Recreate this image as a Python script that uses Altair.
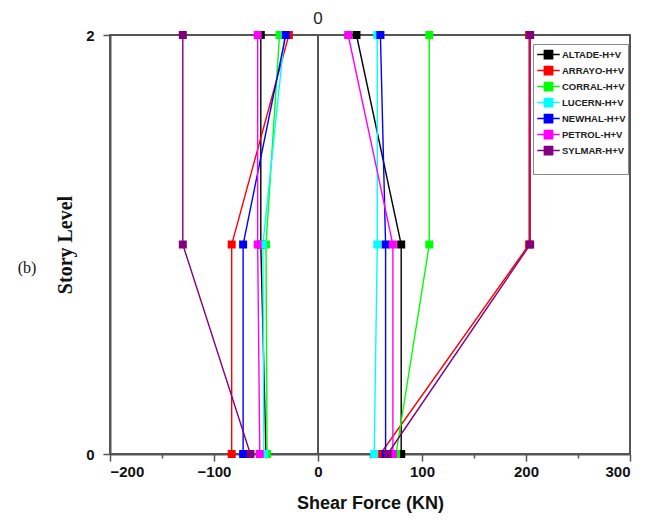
import altair as alt
import pandas as pd

series = ["ALTADE-H+V", "ARRAYO-H+V", "CORRAL-H+V", "LUCERN-H+V",
          "NEWHAL-H+V", "PETROL-H+V", "SYLMAR-H+V"]
colors = ["#000000", "#FF0000", "#00FF00", "#00FFFF", "#0000FF", "#FF00FF", "#800080"]
levels = [0, 1, 2]

# shear force at story levels 0, 1, 2 (negative and positive envelopes)
altade_neg = [-50, -55, -55]
altade_pos = [80, 80, 37]
arrayo_neg = [-83, -83, -28]
arrayo_pos = [60, 203, 203]
corral_neg = [-49, -50, -37]
corral_pos = [75, 107, 107]
lucern_neg = [-52, -53, -32]
lucern_pos = [54, 57, 57]
newhal_neg = [-72, -72, -31]
newhal_pos = [65, 65, 60]
petrol_neg = [-56, -58, -58]
petrol_pos = [72, 72, 29]
sylmar_neg = [-65, -130, -130]
sylmar_pos = [67, 204, 204]

neg = [altade_neg, arrayo_neg, corral_neg, lucern_neg, newhal_neg, petrol_neg, sylmar_neg]
pos = [altade_pos, arrayo_pos, corral_pos, lucern_pos, newhal_pos, petrol_pos, sylmar_pos]

rows = []
for i, s in enumerate(series):
    for side, vals in (("neg", neg[i]), ("pos", pos[i])):
        for lv, v in zip(levels, vals):
            rows.append({"series": s, "side": side, "level": lv, "shear": v, "ord": i})
df = pd.DataFrame(rows)

AX = "#555555"
FONT = "Liberation Sans"
SERIF = "Liberation Serif"
SYM = "M-1.5,0H1.5M-0.55,-0.55H0.55V0.55H-0.55Z"


def make_legend():
    return alt.Legend(
        title=" ", titleOrient="bottom", titleFontSize=14, titlePadding=0,
        orient="none", legendX=423, legendY=9,
        symbolType=SYM, symbolSize=225, symbolStrokeWidth=1.5, symbolOffset=5,
        labelFont=FONT, labelFontSize=9.5, labelFontWeight="bold", labelColor="#222",
        labelOffset=5, rowPadding=0,
        strokeColor="#888888", fillColor="white", padding=2,
    )


cscale = alt.Scale(domain=series, range=colors)

xscale = alt.Scale(domain=[-200, 300], nice=False)
yscale = alt.Scale(domain=[0, 2], nice=False)

xaxis = alt.Axis(
    title="Shear Force (KN)", values=list(range(-200, 301, 50)),
    labelExpr="datum.value % 100 == 0 ? datum.label : ''", labelOverlap=False,
    grid=False, domainColor=AX, domainWidth=2, tickColor=AX, tickWidth=1.5,
    tickSize={"condition": {"test": "datum.value % 100 == 0", "value": 7}, "value": 4},
    labelFont=FONT, labelFontSize=15, labelFontWeight="bold", labelColor="#111", labelPadding=3,
    titleFont=FONT, titleFontSize=18, titleFontWeight="bold", titleColor="#111", titlePadding=15,
)
yaxis = alt.Axis(
    title="Story Level", values=levels, format="d",
    grid=False, domainColor=AX, domainWidth=2, tickColor=AX, tickWidth=1.5, tickSize=7,
    labelFont=FONT, labelFontSize=15, labelFontWeight="bold", labelColor="#111", labelPadding=9,
    titleFont=SERIF, titleFontSize=20, titleFontWeight="bold", titleColor="#111", titlePadding=10,
)

base = alt.Chart(df)

zero = alt.Chart(pd.DataFrame({"z": [0]})).mark_rule(color=AX, strokeWidth=2).encode(
    x=alt.X("z:Q", scale=xscale, axis=xaxis)
)

lines = base.mark_line(strokeWidth=1.4).encode(
    x=alt.X("shear:Q", scale=xscale, axis=xaxis),
    y=alt.Y("level:Q", scale=yscale, axis=yaxis),
    stroke=alt.Stroke("series:N", scale=cscale, legend=make_legend()),
    detail="side:N",
    order="level:Q",
)

points = base.mark_point(shape="square", filled=True, size=64, opacity=1, strokeWidth=0).encode(
    x=alt.X("shear:Q", scale=xscale),
    y=alt.Y("level:Q", scale=yscale),
    fill=alt.Fill("series:N", scale=cscale, legend=make_legend()),
    order="ord:Q",
)

top0 = alt.Chart(pd.DataFrame({"t": ["0"], "z": [0]})).mark_text(
    font=FONT, fontSize=17, color="#222", baseline="bottom"
).encode(x=alt.X("z:Q", scale=xscale), y=alt.value(-7), text="t:N")

blabel = alt.Chart(pd.DataFrame({"t": ["(b)"]})).mark_text(
    font=SERIF, fontSize=16, color="#111"
).encode(x=alt.value(-83), y=alt.value(233), text="t:N")

chart = alt.layer(zero, lines, points, top0, blabel).properties(
    width=520, height=419,
    autosize=alt.AutoSizeParams(type="none"),
    padding={"left": 102, "top": 27, "right": 20, "bottom": 63},
).configure_view(stroke=AX, strokeWidth=2)

chart.save("out.html", embed_options={"renderer": "svg", "actions": False})
